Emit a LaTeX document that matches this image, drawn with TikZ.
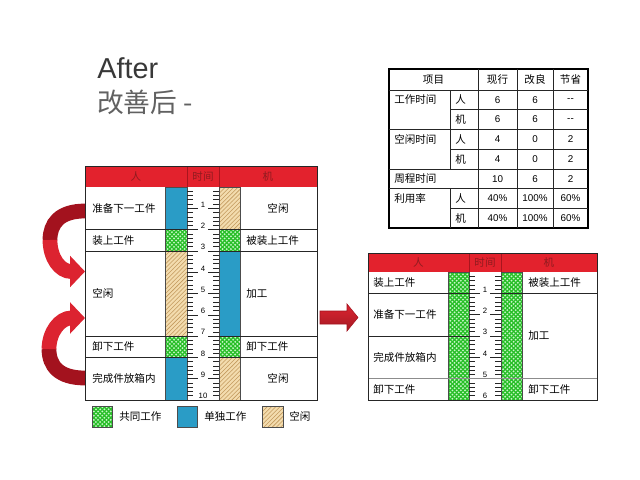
\documentclass[tikz,border=0pt]{standalone}
\usepackage{fontspec}
\setmainfont{Liberation Sans}
\newfontfamily\cjk{Noto Sans CJK SC}
\usetikzlibrary{patterns,arrows.meta}
\definecolor{hdrred}{HTML}{E3222D}
\definecolor{hdrline}{HTML}{A8151E}
\definecolor{hdrtext}{HTML}{8E1B1F}
\definecolor{solo}{HTML}{2A9CC6}
\definecolor{joint}{HTML}{28BE28}
\definecolor{jointdot}{HTML}{C8F7C8}
\definecolor{idle}{HTML}{F3DCAE}
\definecolor{idleline}{HTML}{C39A5E}
\definecolor{arrred}{HTML}{DC2330}
\definecolor{arrdark}{HTML}{A3121E}
\pgfdeclarepatternformonly{gdots}{\pgfqpoint{-1pt}{-1pt}}{\pgfqpoint{4pt}{4pt}}{\pgfqpoint{3pt}{3pt}}{%
  \pgfpathcircle{\pgfqpoint{0.75pt}{0.75pt}}{0.72pt}%
  \pgfpathcircle{\pgfqpoint{2.25pt}{2.25pt}}{0.72pt}%
  \pgfusepath{fill}}
\begin{document}
\begin{tikzpicture}[x=0.025cm,y=-0.025cm]
\tikzset{
  lbl/.style={font=\cjk\fontsize{7.5}{9}\selectfont, inner sep=0pt},
  lblw/.style={lbl, anchor=west},
  hdr/.style={lbl, text=hdrtext},
  tick/.style={font=\fontsize{5.5}{6}\selectfont, inner sep=0.6pt, anchor=south},
  cell/.style={font=\fontsize{7}{8}\selectfont, inner sep=0pt},
  bar/.style={draw=black!70, line width=0.4pt},
  solobar/.style={bar, fill=solo},
  jointbar/.style={bar, preaction={fill=joint}, pattern=gdots, pattern color=jointdot},
  idlebar/.style={bar, preaction={fill=idle}, pattern=north east lines, pattern color=idleline},
  rule/.style={line width=0.4pt, black!85},
  swing/.style={line width=10.5pt},
}
\useasboundingbox (0,0) rectangle (640,480);

\node[anchor=west, inner sep=0pt, text=black!78, font=\fontsize{20.5}{24}\selectfont] (after) at (97,68.5) {After};
\node[anchor=west, inner sep=0pt, text=black!62, font=\cjk\fontsize{19}{22}\selectfont] (kaizen) at (97,102) {改善后 -};

% before: man / time / machine
\fill[hdrred] (85,166) rectangle (317,187);
\draw[hdrline, line width=0.6pt] (187,166) -- (187,187) (219,166) -- (219,187);
\node[hdr] (lman) at (136,176.5) {人};
\node[hdr] (ltime) at (203,176.5) {时间};
\node[hdr] (lmac) at (268,176.5) {机};
\foreach \a/\b/\s in {0/2/solobar,2/3/jointbar,3/7/idlebar,7/8/jointbar,8/10/solobar}
  \path[\s] (165,{187+21.3*\a}) rectangle (187,{187+21.3*\b});
\foreach \a/\b/\s in {0/2/idlebar,2/3/jointbar,3/7/solobar,7/8/jointbar,8/10/idlebar}
  \path[\s] (219,{187+21.3*\a}) rectangle (240,{187+21.3*\b});
\foreach \i in {1,...,49}{
  \pgfmathsetmacro\len{mod(\i,5)==0 ? 11 : 6}
  \draw[rule] (187,{187+4.26*\i}) -- ++(\len,0) (219,{187+4.26*\i}) -- ++(-\len,0);
}
\foreach \n in {1,...,10} \node[tick] (lt\n) at (203,{187+21.3*\n}) {\n};
\foreach \a in {2,3,7,8}
  \draw[rule] (85,{187+21.3*\a}) -- (187,{187+21.3*\a}) (219,{187+21.3*\a}) -- (317,{187+21.3*\a});
\draw[rule] (85,166) rectangle (317,400);
\node[lblw] (lp1) at (92,208.3) {准备下一工件};
\node[lblw] (lp2) at (92,240.3) {装上工件};
\node[lblw] (lp3) at (92,293.5) {空闲};
\node[lblw] (lp4) at (92,346.8) {卸下工件};
\node[lblw] (lp5) at (92,378.7) {完成件放箱内};
\node[lbl] (lm1) at (278,208.3) {空闲};
\node[lblw] (lm2) at (246,240.3) {被装上工件};
\node[lblw] (lm3) at (246,293.5) {加工};
\node[lblw] (lm4) at (246,346.8) {卸下工件};
\node[lbl] (lm5) at (278,378.7) {空闲};

\path[jointbar] (92,406) rectangle (112,427);
\node[lblw] (lgj) at (119,416.5) {共同工作};
\path[solobar] (177,406) rectangle (197,427);
\node[lblw] (lgs) at (204,416.5) {单独工作};
\path[idlebar] (262,406) rectangle (283,427);
\node[lblw] (lgi) at (289,416.5) {空闲};

\coordinate (upA) at (85,211);
\coordinate (upM) at (50,240);
\coordinate (upB) at (85,271.5);
\draw[swing, arrdark] (upA) .. controls (59,211) and (50,224) .. (upM);
\draw[swing, arrred, -{Triangle[length=10.5pt, width=21.5pt]}] (upM) .. controls (50,258) and (60,271.5) .. (upB);
\coordinate (loA) at (85,378);
\coordinate (loM) at (49,349);
\coordinate (loB) at (85,318);
\draw[swing, arrdark] (loA) .. controls (59,378) and (49,366) .. (loM);
\draw[swing, arrred, -{Triangle[length=10.5pt, width=21.5pt]}] (loM) .. controls (49,332) and (60,318) .. (loB);

\shade[top color=arrred, bottom color=arrred!75!black, draw=arrdark, line width=0.4pt]
  (320,311) -- (347,311) -- (347,304) -- (358,317.5) -- (347,331) -- (347,324) -- (320,324) -- cycle;

% after
\fill[hdrred] (368,253) rectangle (597,272);
\draw[hdrline, line width=0.6pt] (469,253) -- (469,272) (501,253) -- (501,272);
\node[hdr] (rman) at (418.5,262.5) {人};
\node[hdr] (rtime) at (485,262.5) {时间};
\node[hdr] (rmac) at (549,262.5) {机};
\path[jointbar] (448,272) rectangle (469,400);
\path[jointbar] (501,272) rectangle (522,400);
\foreach \i in {1,...,29}{
  \pgfmathsetmacro\len{mod(\i,5)==0 ? 11 : 6}
  \draw[rule] (469,{272+4.267*\i}) -- ++(\len,0) (501,{272+4.267*\i}) -- ++(-\len,0);
}
\foreach \n in {1,...,6} \node[tick] (rt\n) at (485,{272+21.33*\n}) {\n};
\draw[rule] (368,293.3) -- (469,293.3) (501,293.3) -- (597,293.3) (368,336) -- (469,336);
\draw[rule, black!45] (368,378.7) -- (597,378.7);
\draw[rule] (368,253) rectangle (597,400);
\node[lblw] (rp1) at (373,282.7) {装上工件};
\node[lblw] (rp2) at (373,314.7) {准备下一工件};
\node[lblw] (rp3) at (373,357.3) {完成件放箱内};
\node[lblw] (rp4) at (373,389.3) {卸下工件};
\node[lblw] (rm1) at (528,282.7) {被装上工件};
\node[lblw] (rm2) at (528,336) {加工};
\node[lblw] (rm3) at (528,389.3) {卸下工件};

% summary table
\draw[line width=1.1pt] (389,69) rectangle (588,228);
\foreach \y/\xs in {90/389,109.7/450,129.4/389,149.1/450,168.9/389,188.6/389,208.3/450}
  \draw[rule] (\xs,\y) -- (588,\y);
\foreach \x in {478,517,553} \draw[rule] (\x,69) -- (\x,228);
\draw[rule] (450,90) -- (450,168.9) (450,188.6) -- (450,228);
\node[lbl] (item) at (433.5,79.5) {项目};
\node[lbl] (now) at (497.5,79.5) {现行};
\node[lbl] (imp) at (535,79.5) {改良};
\node[lbl] (save) at (570.5,79.5) {节省};
\node[lblw] (work) at (394,99.8) {工作时间};
\node[lblw] (free) at (394,139.3) {空闲时间};
\node[lblw] (cyc) at (394,178.7) {周程时间};
\node[lblw] (use) at (394,198.4) {利用率};
\foreach \y/\k/\p/\q/\s [count=\r] in {99.8/人/6/6/{-}{-},119.5/机/6/6/{-}{-},139.3/人/4/0/2,159/机/4/0/2,198.4/人/40\%/100\%/60\%,218.1/机/40\%/100\%/60\%}{
  \node[lblw] (k\r) at (455,\y) {\k};
  \node[cell] (p\r) at (497.5,\y) {\p};
  \node[cell] (q\r) at (535,\y) {\q};
  \node[cell] (s\r) at (570.5,\y) {\s};
}
\node[cell] (pc) at (497.5,178.7) {10};
\node[cell] (qc) at (535,178.7) {6};
\node[cell] (sc) at (570.5,178.7) {2};
\end{tikzpicture}
\end{document}
